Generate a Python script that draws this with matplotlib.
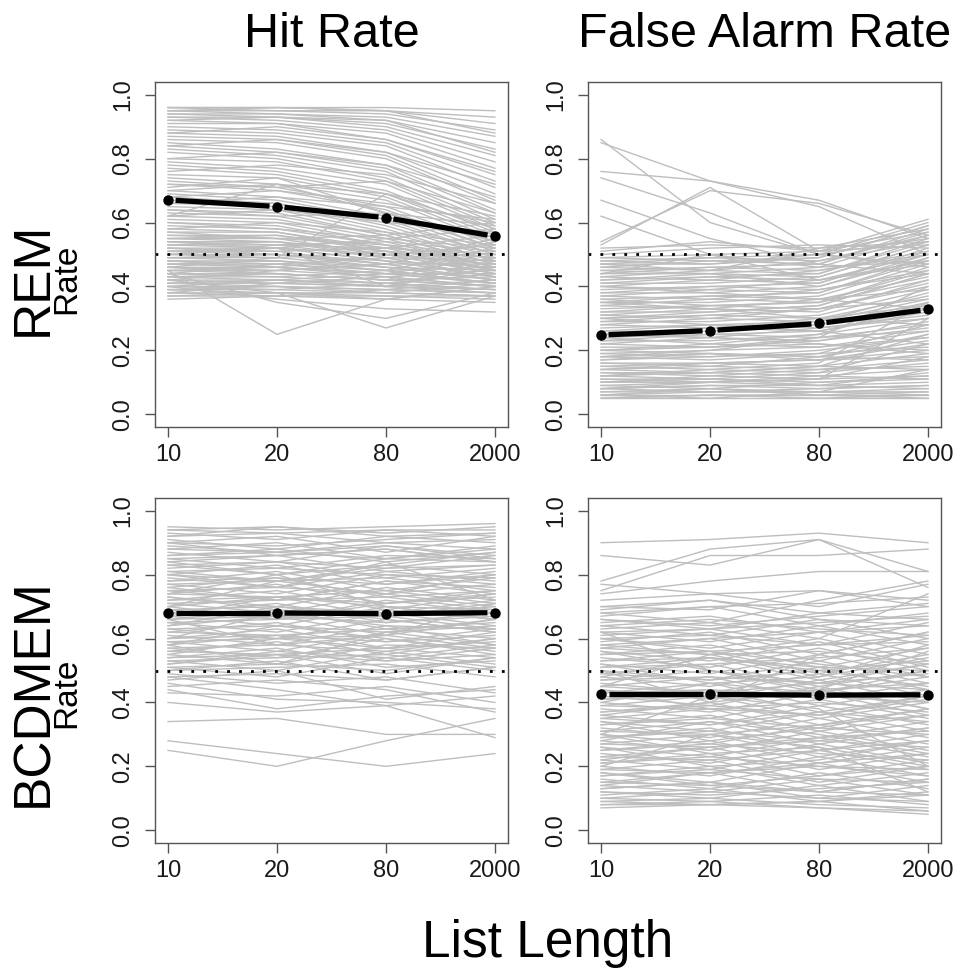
# -------------------------------------------------------------------------------------
# Library
import numpy as np
import matplotlib
matplotlib.use('Agg')
import matplotlib.pyplot as plt
# -------------------------------------------------------------------------------------

# -------------------------------------------------------------------------------------
# Data (rates in percent; one row per simulated subject)
list_lengths = ['10', '20', '80', '2000']
col_titles = ['Hit Rate', 'False Alarm Rate']
row_models = ['REM', 'BCDMEM']

rem_hit_lines = [
    [96, 96, 96, 95], [96, 96, 95, 93], [96, 95, 95, 91], [95, 95, 94, 89],
    [95, 94, 93, 87], [94, 94, 92, 85], [94, 93, 91, 83], [93, 93, 90, 81],
    [93, 92, 89, 79], [92, 91, 88, 77], [91, 91, 86, 75], [90, 89, 85, 73],
    [89, 88, 84, 71], [88, 87, 82, 69], [87, 86, 81, 67], [86, 85, 80, 66],
    [85, 83, 78, 64], [84, 82, 77, 63], [83, 81, 76, 61], [82, 80, 74, 60],
    [80, 79, 73, 59], [79, 77, 72, 58], [78, 76, 70, 57], [77, 75, 69, 56],
    [75, 74, 68, 55], [74, 72, 67, 54], [73, 71, 65, 53], [72, 70, 64, 52],
    [71, 74, 63, 52], [70, 68, 62, 51], [69, 67, 61, 50], [68, 66, 60, 50],
    [67, 66, 59, 49], [66, 65, 58, 48], [65, 64, 57, 48], [64, 63, 56, 47],
    [63, 62, 56, 47], [62, 61, 55, 46], [61, 60, 54, 46], [60, 59, 53, 46],
    [59, 58, 53, 45], [58, 57, 52, 45], [57, 57, 51, 45], [56, 56, 51, 44],
    [55, 55, 50, 44], [55, 54, 50, 44], [54, 54, 49, 43], [53, 53, 49, 43],
    [53, 52, 48, 43], [52, 52, 48, 43], [51, 51, 47, 42], [51, 50, 47, 42],
    [50, 50, 46, 42], [49, 49, 46, 42], [49, 48, 45, 41], [48, 48, 45, 41],
    [47, 47, 44, 41], [47, 46, 44, 41], [46, 46, 43, 40], [45, 45, 43, 40],
    [45, 44, 42, 40], [44, 44, 42, 40], [43, 43, 41, 39], [43, 42, 41, 39],
    [42, 42, 40, 39], [41, 41, 40, 38], [41, 40, 39, 38], [40, 40, 39, 38],
    [39, 39, 38, 37], [39, 38, 38, 37], [38, 38, 37, 37], [37, 37, 37, 36],
    [36, 37, 36, 35], [45, 25, 36, 40], [42, 38, 27, 37], [40, 36, 33, 32],
    [46, 49, 69, 58], [62, 72, 63, 54], [44, 35, 30, 38], [50, 52, 40, 48],
    [56, 55, 53, 50], [55, 56, 52, 49], [54, 53, 54, 51], [53, 54, 51, 48],
    [52, 51, 52, 50], [51, 52, 50, 47], [50, 49, 51, 49], [49, 50, 48, 46],
    [48, 47, 49, 48], [47, 48, 46, 45], [46, 45, 47, 47], [45, 46, 44, 44],
    [44, 43, 45, 46], [43, 44, 42, 43], [42, 41, 43, 45], [41, 42, 40, 42],
    [40, 39, 41, 44], [39, 40, 38, 41], [38, 37, 39, 42], [37, 38, 36, 40],
    [52, 50, 47, 55], [48, 46, 50, 53], [44, 47, 45, 52], [40, 42, 44, 49],
    [54, 52, 55, 58], [50, 53, 52, 56], [46, 44, 42, 51], [42, 45, 47, 54],
    [57, 55, 56, 60], [38, 41, 40, 46], [58, 60, 57, 53], [60, 58, 55, 52],
    [62, 64, 60, 57], [64, 62, 63, 59], [66, 68, 65, 61], [68, 70, 66, 60],
    [70, 72, 69, 62], [72, 71, 73, 63], [76, 78, 75, 66], [80, 82, 78, 68],
    [84, 86, 82, 72], [88, 90, 86, 76], [92, 93, 92, 82], [95, 96, 95, 88],
]
rem_hit_mean = [0.671, 0.650, 0.615, 0.557]

rem_fa_lines = [
    [5, 5, 5, 5], [5, 6, 5, 6], [6, 6, 6, 6], [6, 7, 7, 7], [7, 7, 7, 8],
    [8, 7, 8, 9], [8, 9, 8, 9], [9, 10, 9, 10], [10, 10, 11, 12], [11, 11, 10, 12],
    [12, 13, 12, 14], [13, 12, 14, 15], [14, 15, 14, 17], [15, 16, 17, 18],
    [16, 16, 17, 20], [17, 18, 19, 21], [18, 19, 18, 23], [19, 20, 21, 24],
    [20, 22, 21, 26], [21, 21, 23, 27], [22, 24, 23, 29], [23, 23, 25, 30],
    [24, 25, 26, 32], [25, 27, 26, 33], [26, 26, 28, 35], [27, 28, 29, 36],
    [28, 30, 29, 38], [29, 29, 31, 39], [30, 31, 33, 41], [31, 33, 32, 42],
    [32, 32, 34, 44], [33, 34, 35, 45], [34, 36, 35, 46], [35, 35, 37, 47],
    [36, 37, 38, 48], [37, 39, 38, 49], [38, 38, 40, 50], [39, 40, 41, 51],
    [40, 42, 41, 52], [41, 41, 43, 53], [42, 43, 44, 54], [43, 45, 44, 55],
    [44, 44, 46, 56], [45, 46, 47, 57], [46, 48, 47, 58], [47, 47, 49, 59],
    [48, 49, 50, 60], [49, 50, 51, 61], [10, 12, 11, 30], [15, 14, 16, 35],
    [20, 19, 18, 25], [25, 24, 22, 20], [30, 28, 26, 22], [12, 11, 13, 22],
    [35, 33, 30, 28], [40, 38, 36, 33], [18, 20, 24, 40], [6, 8, 7, 14],
    [86, 60, 50, 47], [85, 73, 67, 55], [76, 73, 65, 50], [74, 63, 50, 46],
    [67, 55, 47, 44], [62, 50, 46, 48], [53, 71, 51, 53], [54, 70, 66, 56],
    [52, 53, 52, 54], [51, 54, 51, 57], [50, 52, 53, 52], [47, 45, 52, 58],
    [44, 50, 42, 50],
    [5, 6, 6, 5], [6, 5, 7, 6], [7, 8, 6, 7], [8, 9, 9, 8], [9, 8, 10, 11],
    [10, 11, 9, 13], [11, 10, 12, 11], [12, 14, 13, 16], [13, 13, 15, 14],
    [14, 16, 15, 19], [16, 15, 18, 17], [17, 19, 17, 22], [19, 18, 20, 24],
    [20, 21, 22, 19], [22, 21, 24, 28], [23, 25, 24, 26], [25, 24, 27, 31],
    [26, 28, 27, 30], [28, 27, 30, 34], [29, 31, 30, 37], [31, 30, 33, 36],
    [32, 34, 33, 40], [34, 33, 36, 39], [35, 37, 36, 43], [37, 36, 39, 45],
    [38, 40, 39, 44], [40, 39, 42, 48], [41, 43, 42, 47], [43, 42, 45, 51],
    [44, 46, 45, 50], [46, 45, 48, 54], [47, 49, 48, 56], [48, 47, 50, 55],
    [49, 48, 49, 59], [45, 44, 43, 53], [42, 44, 40, 49], [36, 34, 35, 42],
    [30, 32, 34, 44], [24, 22, 25, 35], [18, 17, 19, 28], [14, 13, 15, 25],
    [8, 10, 11, 18],
]
rem_fa_mean = [0.248, 0.262, 0.284, 0.328]

bcd_hit_lines = [
    [95, 94, 95, 96], [94, 95, 93, 95], [93, 91, 94, 94], [92, 95, 92, 93],
    [91, 88, 92, 90], [90, 92, 87, 92], [89, 87, 90, 88], [88, 90, 85, 89],
    [87, 84, 89, 86], [86, 88, 84, 87], [85, 82, 86, 85], [84, 86, 81, 83],
    [83, 80, 85, 84], [82, 84, 79, 82], [81, 78, 83, 80], [80, 83, 77, 81],
    [79, 76, 81, 78], [78, 81, 75, 79], [77, 74, 80, 77], [76, 79, 73, 75],
    [75, 72, 78, 76], [74, 77, 71, 73], [73, 70, 76, 72], [72, 75, 69, 74],
    [71, 68, 74, 70], [70, 73, 67, 71], [69, 66, 72, 68], [68, 71, 65, 67],
    [67, 64, 70, 69], [66, 69, 63, 65], [65, 62, 68, 64], [64, 67, 61, 66],
    [63, 60, 66, 62], [62, 65, 59, 61], [61, 58, 64, 63], [60, 63, 57, 59],
    [59, 56, 62, 58], [58, 61, 55, 60], [57, 54, 60, 56], [56, 59, 53, 55],
    [55, 52, 58, 57], [54, 57, 51, 53], [53, 50, 56, 52], [52, 55, 49, 54],
    [51, 48, 54, 50], [50, 53, 47, 51], [80, 76, 84, 72], [70, 78, 74, 80],
    [60, 68, 64, 58], [66, 58, 61, 71], [74, 80, 70, 66], [58, 52, 62, 64],
    [49, 46, 48, 43], [47, 50, 41, 45], [46, 41, 40, 38], [45, 47, 44, 37],
    [44, 38, 42, 44], [43, 42, 45, 40], [48, 44, 39, 42], [40, 37, 39, 29],
    [34, 35, 30, 30], [28, 24, 20, 24], [25, 20, 28, 35],
    [94, 93, 94, 92], [92, 93, 90, 91], [90, 89, 91, 93], [88, 87, 89, 85],
    [86, 87, 85, 88], [85, 86, 88, 84], [83, 84, 82, 86], [81, 82, 80, 79],
    [80, 78, 82, 83], [78, 79, 77, 80], [77, 78, 79, 75], [75, 76, 74, 77],
    [74, 73, 75, 71], [72, 73, 71, 74], [71, 72, 73, 69], [69, 70, 68, 72],
    [68, 67, 69, 66], [66, 67, 65, 68], [65, 66, 67, 63], [63, 64, 62, 66],
    [62, 61, 63, 60], [60, 61, 59, 63], [59, 60, 61, 57], [57, 58, 56, 60],
    [56, 55, 57, 54], [54, 55, 53, 57], [53, 54, 55, 51], [51, 52, 50, 54],
    [50, 51, 52, 48], [48, 49, 47, 51], [90, 86, 88, 84], [84, 80, 83, 87],
    [76, 72, 78, 74], [70, 66, 71, 75], [64, 70, 66, 62], [58, 64, 60, 55],
    [55, 60, 57, 62], [52, 56, 54, 58], [73, 69, 67, 70], [67, 73, 70, 66],
]
bcd_hit_mean = [0.680, 0.680, 0.678, 0.681]

bcd_fa_lines = [
    [90, 91, 93, 90], [86, 83, 91, 81], [78, 88, 91, 76], [75, 86, 86, 88],
    [74, 78, 81, 81], [77, 74, 75, 70], [72, 74, 70, 77], [70, 69, 75, 72],
    [69, 72, 66, 64], [68, 65, 72, 78], [67, 70, 64, 68], [66, 63, 68, 71],
    [65, 67, 62, 66], [64, 61, 66, 60], [63, 65, 60, 74], [62, 59, 64, 58],
    [61, 63, 58, 65], [60, 57, 62, 55], [59, 62, 55, 62], [58, 55, 60, 53],
    [57, 60, 53, 60], [56, 53, 59, 51], [55, 58, 51, 57], [54, 51, 57, 50],
    [53, 56, 49, 55], [52, 49, 55, 48], [51, 54, 47, 52], [50, 47, 53, 46],
    [49, 52, 45, 50], [48, 45, 51, 44], [47, 50, 43, 48], [46, 43, 49, 42],
    [45, 48, 41, 46], [44, 41, 47, 40], [43, 46, 39, 44], [42, 39, 45, 38],
    [41, 44, 37, 42], [40, 37, 43, 36], [39, 42, 35, 40], [38, 35, 41, 35],
    [37, 40, 33, 38], [36, 33, 39, 33], [35, 38, 31, 36], [34, 31, 37, 31],
    [33, 36, 29, 34], [32, 29, 35, 29], [31, 34, 27, 32], [30, 27, 33, 27],
    [29, 32, 25, 30], [28, 25, 31, 25], [27, 30, 23, 28], [26, 23, 29, 23],
    [25, 28, 21, 26], [24, 21, 27, 21], [23, 26, 19, 24], [22, 19, 25, 19],
    [21, 24, 17, 22], [20, 17, 23, 17], [19, 22, 15, 20], [18, 15, 21, 15],
    [17, 20, 14, 18], [16, 13, 18, 13], [15, 18, 12, 16], [14, 12, 16, 11],
    [13, 15, 10, 14], [12, 10, 14, 9], [11, 13, 9, 12], [10, 9, 11, 8],
    [9, 10, 8, 7], [8, 8, 9, 6], [7, 8, 7, 5], [50, 40, 55, 62], [30, 42, 38, 20],
    [45, 55, 48, 58], [20, 30, 26, 12], [62, 50, 44, 56],
    [70, 72, 68, 66], [68, 70, 71, 73], [66, 64, 67, 70], [64, 66, 63, 61],
    [62, 63, 65, 67], [60, 61, 58, 59], [58, 60, 62, 64], [57, 55, 56, 52],
    [55, 56, 58, 61], [53, 54, 51, 50], [51, 52, 54, 57], [49, 47, 50, 53],
    [47, 48, 46, 44], [45, 43, 46, 49], [43, 44, 42, 40], [41, 42, 44, 46],
    [39, 38, 40, 37], [37, 39, 36, 41], [35, 33, 37, 34], [33, 35, 32, 30],
    [31, 30, 33, 36], [29, 31, 28, 26], [27, 26, 29, 31], [25, 27, 24, 22],
    [23, 22, 25, 28], [21, 23, 20, 19], [19, 18, 21, 24], [17, 19, 16, 15],
    [15, 14, 17, 20], [13, 15, 12, 11], [12, 11, 13, 15], [10, 12, 10, 9],
    [9, 8, 9, 11], [8, 9, 7, 6], [56, 50, 46, 52], [48, 54, 50, 45],
    [40, 46, 43, 50], [34, 28, 32, 38], [28, 34, 30, 24], [22, 26, 28, 32],
    [18, 14, 12, 16], [14, 18, 20, 17], [26, 20, 22, 28], [44, 38, 36, 42],
    [52, 46, 48, 54], [60, 56, 52, 48], [36, 40, 44, 38], [30, 24, 26, 20],
]
bcd_fa_mean = [0.425, 0.425, 0.423, 0.424]
# -------------------------------------------------------------------------------------


# -------------------------------------------------------------------------------------
# Method to draw one panel (subject lines, chance line, group mean)
def draw_panel(ax, lines, mean):

    x = np.arange(1, len(list_lengths) + 1)
    ax.set_xlim(0.88, 4.12)
    ax.set_ylim(-0.04, 1.04)

    for row in lines:
        ax.plot(x, np.array(row) / 100.0, color='#bebebe', lw=1.0, zorder=1)

    ax.axhline(0.5, color='black', lw=2.0, linestyle=(0, (1, 3.3)), zorder=2)

    # type = "b": segments stop short of the points
    gap = 7.5
    pts = ax.transData.transform(np.column_stack([x, mean]))
    inv = ax.transData.inverted()
    for i in range(len(x) - 1):
        p0, p1 = pts[i], pts[i + 1]
        d = p1 - p0
        u = d / np.hypot(d[0], d[1])
        seg = inv.transform(np.array([p0 + u * gap, p1 - u * gap]))
        ax.plot(seg[:, 0], seg[:, 1], color='black', lw=3.8,
                solid_capstyle='butt', zorder=3)
    ax.plot(x, mean, 'o', color='black', ms=6.5, zorder=4)

    ax.set_xticks(x)
    ax.set_xticklabels(list_lengths)
    ax.set_yticks([0.0, 0.2, 0.4, 0.6, 0.8, 1.0])
    ax.set_yticklabels(['0.0', '0.2', '0.4', '0.6', '0.8', '1.0'],
                       rotation=90, va='center')
    ax.tick_params(axis='both', length=7, width=1, color='#555555',
                   labelsize=17, labelcolor='#1a1a1a')
    ax.tick_params(axis='x', pad=5)
    ax.tick_params(axis='y', pad=8)
    for s in ax.spines.values():
        s.set_color('#555555')
        s.set_linewidth(1.0)
# -------------------------------------------------------------------------------------


# -------------------------------------------------------------------------------------
# Figure
plt.rcParams['font.family'] = ['Liberation Sans', 'DejaVu Sans']

fig = plt.figure(figsize=(9.6, 9.71), dpi=100)

W, H = 960.0, 971.0
lefts = [155 / W, 588 / W]
bottoms = [1 - 427 / H, 1 - 843 / H]
aw, ah = 353 / W, 345 / H

panel_data = [[(rem_hit_lines, rem_hit_mean), (rem_fa_lines, rem_fa_mean)],
              [(bcd_hit_lines, bcd_hit_mean), (bcd_fa_lines, bcd_fa_mean)]]

for r in range(2):
    for c in range(2):
        ax = fig.add_axes([lefts[c], bottoms[r], aw, ah])
        lines, mean = panel_data[r][c]
        draw_panel(ax, lines, mean)

# column titles
for c in range(2):
    fig.text(lefts[c] + aw / 2, 1 - 47 / H, col_titles[c], ha='center',
             va='baseline', fontsize=35)

# row labels: model name with "Rate" underneath
row_centres = [1 - 278.5 / H, 1 - 693 / H]
for r in range(2):
    fig.text(47 / W, row_centres[r], row_models[r], rotation=90,
             rotation_mode='anchor', ha='center', va='baseline', fontsize=37)
    fig.text(75 / W, row_centres[r], 'Rate', rotation=90,
             rotation_mode='anchor', ha='center', va='baseline', fontsize=24)

fig.text(548 / W, 1 - 957 / H, 'List Length', ha='center', va='baseline',
         fontsize=37)

fig.savefig('out.png', dpi=100)
# -------------------------------------------------------------------------------------
